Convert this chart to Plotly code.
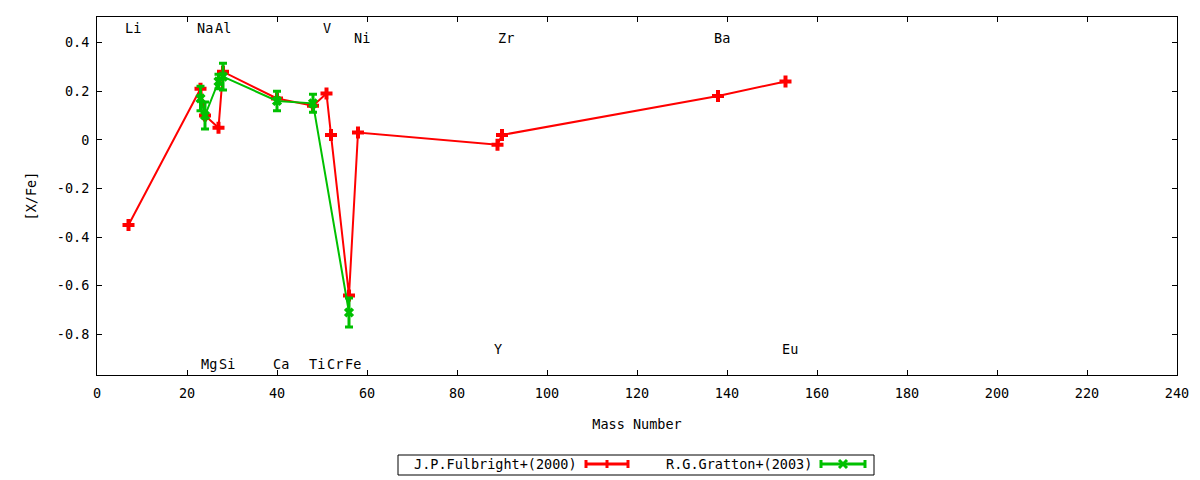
import plotly.graph_objects as go

# ---------------- data ----------------
# J.P.Fulbright+(2000)
ful_elem = ["Li", "Na", "Mg", "Al", "Si", "Ca", "Ti", "V", "Cr", "Fe", "Ni", "Y", "Zr", "Ba", "Eu"]
ful_mass = [7, 23, 24, 27, 28, 40, 48, 51, 52, 56, 58, 89, 90, 138, 153]
ful_xfe = [-0.35, 0.21, 0.10, 0.05, 0.28, 0.17, 0.14, 0.19, 0.02, -0.64, 0.03, -0.02, 0.02, 0.18, 0.24]

# R.G.Gratton+(2003)
gra_elem = ["Na", "Mg", "Al", "Si", "Ca", "Ti", "Fe"]
gra_mass = [23, 24, 27, 28, 40, 48, 56]
gra_xfe = [0.17, 0.10, 0.24, 0.26, 0.16, 0.15, -0.71]
gra_err = [0.05, 0.055, 0.03, 0.055, 0.04, 0.037, 0.06]

# element labels
lab_text = ["Li", "Na", "Al", "V", "Ni", "Zr", "Ba", "Y", "Eu", "Mg", "Si", "Ca", "Ti", "Cr", "Fe"]
lab_mass = [7, 23, 27, 51, 58, 90, 138, 89, 153, 24, 28, 40, 48, 52, 56]
lab_y = [0.46, 0.46, 0.46, 0.46, 0.42, 0.42, 0.42, -0.86, -0.86, -0.92, -0.92, -0.92, -0.92, -0.92, -0.92]

x_ticks = [0, 20, 40, 60, 80, 100, 120, 140, 160, 180, 200, 220, 240]
y_ticks = [-0.8, -0.6, -0.4, -0.2, 0, 0.2, 0.4]
y_tick_text = ["-0.8", "-0.6", "-0.4", "-0.2", "0", "0.2", "0.4"]

series_names = ["J.P.Fulbright+(2000)", "R.G.Gratton+(2003)"]

# ---------------- style ----------------
RED = "#ff0000"
GREEN = "#00c000"
FONT = "DejaVu Sans Mono"
FS = 13.5
W, H = 1200, 480
L, R, T, B = 97, 1177, 17, 375  # plot area in pixels

fig = go.Figure()

fig.add_trace(go.Scatter(
    x=ful_mass, y=ful_xfe, name=series_names[0], text=ful_elem,
    mode="lines+markers",
    line=dict(color=RED, width=2),
    marker=dict(symbol="cross", size=10, color=RED, line=dict(width=0)),
))

fig.add_trace(go.Scatter(
    x=gra_mass, y=gra_xfe, name=series_names[1], text=gra_elem,
    mode="lines+markers",
    line=dict(color=GREEN, width=2),
    marker=dict(symbol="x", size=9, color=GREEN, line=dict(width=0)),
    error_y=dict(type="data", array=gra_err, visible=True, color=GREEN, thickness=3, width=4),
))

for t, m, yv in zip(lab_text, lab_mass, lab_y):
    fig.add_annotation(x=m, y=yv, xref="x", yref="y", text=t, showarrow=False,
                       xanchor="left", yanchor="middle", xshift=-5, borderpad=0,
                       font=dict(family=FONT, size=FS, color="black"))

# ---------------- manual legend (text then sample, gnuplot style) ----------------
def px(xp):
    return (xp - L) / (R - L)

def py(yp):
    return (B - yp) / (B - T)

fig.add_shape(type="rect", xref="paper", yref="paper",
              x0=px(398), x1=px(874), y0=py(475), y1=py(455),
              line=dict(color="black", width=1), fillcolor="white", layer="above")

legend_items = [
    (series_names[0], 578, 586, 628, RED, "plus"),
    (series_names[1], 813, 821, 865, GREEN, "x"),
]
ly = 464
for name, txt_right, s0, s1, col, mk in legend_items:
    fig.add_annotation(x=px(txt_right), y=py(ly), xref="paper", yref="paper", text=name,
                       showarrow=False, xanchor="right", yanchor="middle", borderpad=0,
                       font=dict(family=FONT, size=FS, color="black"))
    fig.add_shape(type="line", xref="paper", yref="paper", x0=px(s0), x1=px(s1), y0=py(ly), y1=py(ly),
                  line=dict(color=col, width=3))
    for xe in (s0, s1):
        fig.add_shape(type="line", xref="paper", yref="paper", x0=px(xe), x1=px(xe),
                      y0=py(ly - 4), y1=py(ly + 4), line=dict(color=col, width=3))
    xm = (s0 + s1) / 2
    if mk == "plus":
        fig.add_shape(type="line", xref="paper", yref="paper", x0=px(xm), x1=px(xm),
                      y0=py(ly - 4), y1=py(ly + 4), line=dict(color=col, width=3))
    else:
        fig.add_shape(type="line", xref="paper", yref="paper", x0=px(xm - 4), x1=px(xm + 4),
                      y0=py(ly - 4), y1=py(ly + 4), line=dict(color=col, width=3))
        fig.add_shape(type="line", xref="paper", yref="paper", x0=px(xm - 4), x1=px(xm + 4),
                      y0=py(ly + 4), y1=py(ly - 4), line=dict(color=col, width=3))

# ---------------- layout ----------------
fig.update_layout(
    width=W, height=H,
    margin=dict(l=L, r=W - R, t=T, b=H - B, pad=0),
    paper_bgcolor="white", plot_bgcolor="white",
    showlegend=False,
    font=dict(family=FONT, size=FS, color="black"),
)
fig.update_xaxes(
    range=[0, 240], tickvals=x_ticks, ticktext=[str(v) for v in x_ticks],
    ticks="inside", ticklen=5, tickcolor="black", tickwidth=1,
    showline=True, linecolor="black", linewidth=1, mirror="ticks",
    showgrid=False, zeroline=False, ticklabelstandoff=6,
    title=dict(text="Mass Number", standoff=19, font=dict(family=FONT, size=FS)),
)
fig.update_yaxes(
    range=[-0.967, 0.505], tickvals=y_ticks, ticktext=y_tick_text,
    ticks="inside", ticklen=5, tickcolor="black", tickwidth=1,
    showline=True, linecolor="black", linewidth=1, mirror="ticks",
    showgrid=False, zeroline=False, ticklabelstandoff=4,
    title=dict(text="[X/Fe]", standoff=17, font=dict(family=FONT, size=FS)),
)

fig.write_html(
    "out.html",
    config={"displayModeBar": False},
    post_script="document.body.style.margin='0';document.body.style.overflow='hidden';",
)
